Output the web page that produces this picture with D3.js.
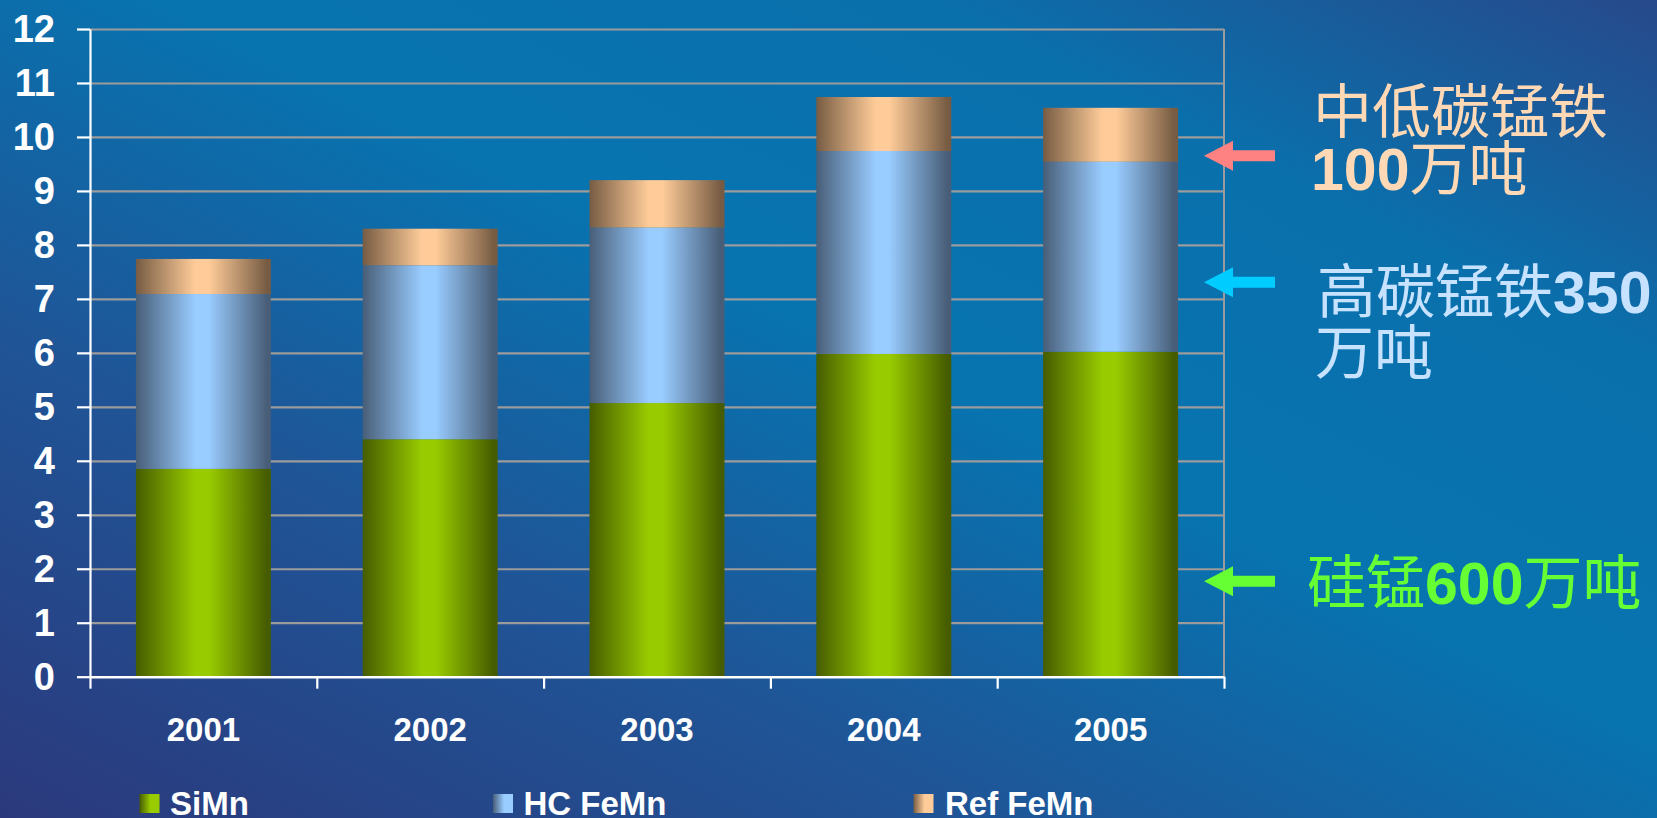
<!DOCTYPE html>
<html>
<head>
<meta charset="utf-8">
<script src="https://cdn.jsdelivr.net/npm/d3@7"></script>
<style>
  html, body { margin: 0; padding: 0; background: #0a70ac; }
  svg { display: block; }
  text { font-family: "Liberation Sans", Arial, sans-serif; }
</style>
</head>
<body>
<svg id="chart" width="1657" height="818"></svg>
<script>
// ---------------- data ----------------
const years = ["2001", "2002", "2003", "2004", "2005"];
const seriesNames = ["SiMn", "HC FeMn", "Ref FeMn"];
const simn    = [3.85, 4.40, 5.07, 5.98, 6.02];
const hcFemn  = [3.24, 3.22, 3.25, 3.76, 3.52];
const refFemn = [0.65, 0.68, 0.88, 1.00, 1.00];
const yTicks = [0, 1, 2, 3, 4, 5, 6, 7, 8, 9, 10, 11, 12];

// annotations (text, colour, arrow level in data units)
const notes = [
  { lines: [[["中低碳锰铁", "cjk"]], [["100", "num"], ["万吨", "cjk"]]], color: "#ffd9b6", arrowAt: 9.65, arrowColor: "#ff8282", x: [1313, 1311], y: [133, 190] },
  { lines: [[["高碳锰铁", "cjk"], ["350", "num"]], [["万吨", "cjk"]]], color: "#c6e2ff", arrowAt: 7.31, arrowColor: "#00ccff", x: [1317, 1315], y: [313, 374] },
  { lines: [[["硅锰", "cjk"], ["600", "num"], ["万吨", "cjk"]]], color: "#66ff33", arrowAt: 1.77, arrowColor: "#66ff33", x: [1307], y: [604] }
];

(function () {
// ---------------- setup ----------------
const W = 1657, H = 818;
const svg = d3.select("#chart");
const defs = svg.append("defs");

// background gradient
const bg = defs.append("linearGradient").attr("id", "bg")
  .attr("x1", 0).attr("y1", 1).attr("x2", 1).attr("y2", 0);
[[0, "#2b397c"], [0.3, "#1f5597"], [0.55, "#0774b0"], [0.78, "#0a70ac"], [1, "#27498b"]]
  .forEach(([o, c]) => bg.append("stop").attr("offset", o).attr("stop-color", c));
svg.append("rect").attr("width", W).attr("height", H).attr("fill", "url(#bg)");

const pLeft = 90, pRight = 1224, pTop = 29, pBottom = 676.7;

const x = d3.scaleBand().domain(years).range([pLeft, pRight])
  .paddingInner(0.405).paddingOuter(0.2025);
const xEdge = d3.scaleLinear().domain([0, years.length]).range([pLeft, pRight]);
const y = d3.scaleLinear().domain([0, 12]).range([pBottom, pTop]);

const colors = {
  "SiMn":     { dark: "#465c00", light: "#99cc00" },
  "HC FeMn":  { dark: "#485e78", light: "#99ccff" },
  "Ref FeMn": { dark: "#775c43", light: "#ffcc99" }
};
const gid = n => "g_" + n.replace(/\s/g, "");
seriesNames.forEach(n => {
  const g = defs.append("linearGradient").attr("id", gid(n))
    .attr("x1", 0).attr("y1", 0).attr("x2", 1).attr("y2", 0);
  [[0, colors[n].dark], [0.44, colors[n].light], [0.54, colors[n].light], [0.97, colors[n].dark], [1, colors[n].dark]]
    .forEach(([o, c]) => g.append("stop").attr("offset", o).attr("stop-color", c));
  const l = defs.append("linearGradient").attr("id", gid(n) + "_leg")
    .attr("x1", 0).attr("y1", 0).attr("x2", 1).attr("y2", 0);
  [[0, colors[n].dark], [0.55, colors[n].light], [1, colors[n].light]]
    .forEach(([o, c]) => l.append("stop").attr("offset", o).attr("stop-color", c));
});

// gridlines
svg.append("g").attr("class", "grid")
  .attr("transform", `translate(${pLeft},0)`)
  .call(d3.axisRight(y).tickValues(yTicks.filter(t => t > 0)).tickSize(pRight - pLeft).tickFormat(""))
  .call(g => g.select(".domain").remove())
  .call(g => g.selectAll("line").attr("stroke", "#9b9b9b").attr("stroke-width", 2.2));

// right border
svg.append("line").attr("x1", pRight).attr("x2", pRight).attr("y1", y(12)).attr("y2", y(0))
  .attr("stroke", "#9b9b9b").attr("stroke-width", 2);

// bars
const rows = years.map((yr, i) => ({ year: yr, "SiMn": simn[i], "HC FeMn": hcFemn[i], "Ref FeMn": refFemn[i] }));
const stacked = d3.stack().keys(seriesNames)(rows);
svg.append("g").selectAll("g").data(stacked).join("g")
  .attr("fill", d => `url(#${gid(d.key)})`)
  .selectAll("rect").data(d => d).join("rect")
  .attr("x", d => x(d.data.year))
  .attr("width", x.bandwidth())
  .attr("y", d => y(d[1]))
  .attr("height", d => y(d[0]) - y(d[1]));

// y axis
svg.append("g").attr("transform", `translate(${pLeft},0)`)
  .call(d3.axisLeft(y).tickValues(yTicks).tickSize(13).tickPadding(22).tickSizeOuter(0))
  .call(g => g.select(".domain").attr("stroke", "#ffffff").attr("stroke-width", 2.2))
  .call(g => g.selectAll("line").attr("stroke", "#ffffff").attr("stroke-width", 2.2))
  .call(g => g.selectAll("text").attr("fill", "#ffffff").attr("font-size", 38)
    .attr("font-weight", "bold").attr("font-family", "'Liberation Sans', Arial, sans-serif").attr("dy", "0.34em"));

// x axis: boundary ticks
svg.append("g").attr("transform", `translate(0,${pBottom})`)
  .call(d3.axisBottom(xEdge).ticks(years.length).tickSize(12).tickFormat("").tickSizeOuter(0))
  .call(g => g.select(".domain").attr("stroke", "#ffffff").attr("stroke-width", 2.4))
  .call(g => g.selectAll("line").attr("stroke", "#ffffff").attr("stroke-width", 2.2));

// x axis: category labels
svg.append("g").attr("transform", `translate(0,${pBottom})`)
  .call(d3.axisBottom(x).tickSize(0))
  .call(g => g.select(".domain").remove())
  .call(g => g.selectAll("text").attr("fill", "#ffffff").attr("font-size", 33)
    .attr("font-weight", "bold").attr("font-family", "'Liberation Sans', Arial, sans-serif")
    .attr("y", 64).attr("dy", 0));

// legend
const legX = [139.5, 493, 913.5];
const legTextX = [170, 523.5, 945];
const leg = svg.append("g");
seriesNames.forEach((n, i) => {
  leg.append("rect").attr("x", legX[i]).attr("y", 794).attr("width", 20).attr("height", 19)
    .attr("fill", `url(#${gid(n)}_leg)`);
  leg.append("text").attr("x", legTextX[i]).attr("y", 815).text(n)
    .attr("fill", "#ffffff").attr("font-size", 33).attr("font-weight", "bold");
});

// annotations
const ann = svg.append("g");
notes.forEach(nt => {
  const cy = y(nt.arrowAt);
  const tip = 1204, headBase = 1233, tail = 1275, hh = 15, sh = 5.5;
  ann.append("path")
    .attr("d", `M${tip},${cy} L${headBase},${cy - hh} L${headBase},${cy - sh} L${tail},${cy - sh} L${tail},${cy + sh} L${headBase},${cy + sh} L${headBase},${cy + hh} Z`)
    .attr("fill", nt.arrowColor);
  nt.lines.forEach((parts, li) => {
    const t = ann.append("text").attr("x", nt.x[li]).attr("y", nt.y[li])
      .attr("fill", nt.color).attr("font-size", 59);
    parts.forEach(([s, kind]) => {
      t.append("tspan").text(s)
        .attr("font-family", kind === "cjk" ? "'Noto Sans CJK SC', sans-serif" : "'Liberation Sans', Arial, sans-serif")
        .attr("font-weight", kind === "cjk" ? "normal" : "bold");
    });
  });
});
})();
</script>
</body>
</html>
